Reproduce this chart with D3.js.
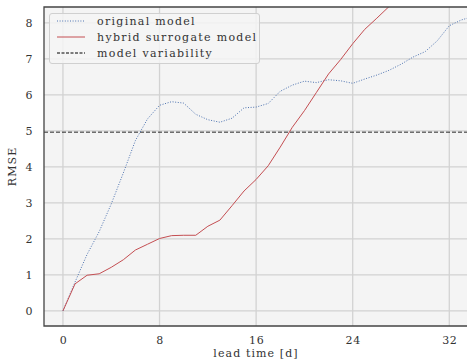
<!DOCTYPE html>
<html>
<head>
<meta charset="UTF-8">
<script src="https://d3js.org/d3.v7.min.js"></script>
<style>
  body { margin: 0; background: #fff; }
</style>
</head>
<body>
<svg width="467" height="364"></svg>
<script>
// lead time in days
const days = d3.range(0, 35);
const original = [0, 0.8, 1.57, 2.2, 2.97, 3.83, 4.73, 5.33, 5.71, 5.81, 5.77, 5.46, 5.31, 5.24, 5.35,
  5.64, 5.66, 5.76, 6.1, 6.27, 6.38, 6.34, 6.42, 6.39, 6.32, 6.44, 6.55, 6.68, 6.85, 7.05,
  7.2, 7.5, 7.92, 8.08, 8.18];
const hybrid = [0, 0.75, 0.99, 1.03, 1.21, 1.42, 1.69, 1.85, 2.01, 2.09, 2.10, 2.10, 2.35, 2.52,
  2.92, 3.33, 3.65, 4.03, 4.55, 5.1, 5.56, 6.07, 6.58, 6.98, 7.42, 7.82, 8.13, 8.45, 8.75];
const variability = 4.96;
const xTicks = [0, 8, 16, 24, 32];
const yTicks = [0, 1, 2, 3, 4, 5, 6, 7, 8];
const legendLabels = ["original model", "hybrid surrogate model", "model variability"];

const FONT = "'DejaVu Serif', 'Liberation Serif', serif";
const m = { left: 44, right: 468, top: 7, bottom: 326 };
const svg = d3.select("svg");

const x = d3.scaleLinear().domain([-1.57, 33.55]).range([m.left, m.right]);
const y = d3.scaleLinear().domain([-0.42, 8.44]).range([m.bottom, m.top]);

svg.append("rect")
  .attr("x", m.left).attr("y", m.top)
  .attr("width", m.right - m.left).attr("height", m.bottom - m.top)
  .attr("fill", "#f4f4f4");

svg.append("clipPath").attr("id", "clip")
  .append("rect")
  .attr("x", m.left).attr("y", m.top)
  .attr("width", m.right - m.left).attr("height", m.bottom - m.top);

// grid
svg.append("g").selectAll("line").data(xTicks).join("line")
  .attr("x1", d => x(d)).attr("x2", d => x(d))
  .attr("y1", m.top).attr("y2", m.bottom)
  .attr("stroke", "#d2d2d2").attr("stroke-width", 1.3);
svg.append("g").selectAll("line").data(yTicks).join("line")
  .attr("x1", m.left).attr("x2", m.right)
  .attr("y1", d => y(d)).attr("y2", d => y(d))
  .attr("stroke", "#d2d2d2").attr("stroke-width", 1.3);

// axes labels (no tick marks)
const xAxis = svg.append("g")
  .attr("transform", `translate(0,${m.bottom})`)
  .call(d3.axisBottom(x).tickValues(xTicks).tickSize(0).tickPadding(10));
const yAxis = svg.append("g")
  .attr("transform", `translate(${m.left},0)`)
  .call(d3.axisLeft(y).tickValues(yTicks).tickSize(0).tickPadding(11));
[xAxis, yAxis].forEach(a => {
  a.attr("font-family", null).attr("font-size", null);
  a.select(".domain").remove();
});

const plot = svg.append("g").attr("clip-path", "url(#clip)");

plot.append("line")
  .attr("x1", m.left).attr("x2", m.right)
  .attr("y1", y(variability)).attr("y2", y(variability))
  .attr("stroke", "#000").attr("stroke-opacity", 0.55)
  .attr("stroke-width", 1.6).attr("stroke-dasharray", "4,2");

const line = d3.line().x((d, i) => x(days[i])).y(d => y(d));

plot.append("path").datum(original)
  .attr("d", line).attr("fill", "none")
  .attr("stroke", "#4c72b0").attr("stroke-width", 1)
  .attr("stroke-dasharray", "1,1.6");

plot.append("path").datum(hybrid)
  .attr("d", line).attr("fill", "none")
  .attr("stroke", "#c44e52").attr("stroke-width", 1);

// spines
svg.append("path")
  .attr("d", `M${m.right},${m.top}H${m.left}V${m.bottom}H${m.right}`)
  .attr("fill", "none").attr("stroke", "#444").attr("stroke-width", 1.3);

// axis titles
svg.append("text")
  .attr("class", "wide")
  .attr("x", (m.left + m.right) / 2).attr("y", 357)
  .attr("text-anchor", "middle")
  .text("lead time [d]");
svg.append("text")
  .attr("class", "wide")
  .attr("transform", `translate(16,${(m.top + m.bottom) / 2}) rotate(-90)`)
  .attr("text-anchor", "middle")
  .text("RMSE");

// legend
const lg = svg.append("g");
lg.append("rect")
  .attr("x", 49.5).attr("y", 13.5).attr("width", 210).attr("height", 50)
  .attr("rx", 2.5).attr("fill", "#f4f4f4").attr("fill-opacity", 0.85)
  .attr("stroke", "#d0d0d0");
const styles = [
  { stroke: "#4c72b0", dash: "1,1.6", w: 1 },
  { stroke: "#c44e52", dash: null, w: 1 },
  { stroke: "#000", dash: "3,1.5", w: 1 }
];
legendLabels.forEach((t, i) => {
  const yy = 21 + i * 16;
  lg.append("line")
    .attr("x1", 57).attr("x2", 85).attr("y1", yy).attr("y2", yy)
    .attr("stroke", styles[i].stroke).attr("stroke-width", styles[i].w)
    .attr("stroke-dasharray", styles[i].dash);
  lg.append("text")
    .attr("class", "legend")
    .attr("x", 97).attr("y", yy).attr("dy", "0.35em")
    .text(t);
});

svg.selectAll("text")
  .style("font-family", FONT)
  .style("font-size", "11px")
  .style("letter-spacing", "0.6px")
  .style("fill", "#333");
svg.selectAll("text.wide").style("letter-spacing", "1.1px");
svg.selectAll("text.legend").style("letter-spacing", "1.3px");
</script>
</body>
</html>
